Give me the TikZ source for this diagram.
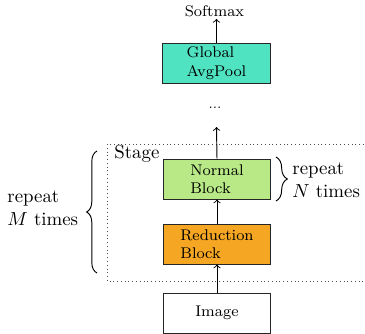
\documentclass[tikz,border=0pt]{standalone}
\usetikzlibrary{decorations.pathreplacing}
\definecolor{gapc}{HTML}{50E3C2}
\definecolor{normc}{HTML}{B8E986}
\definecolor{redc}{HTML}{F5A623}
\newcommand{\boxfont}{\fontsize{8.2}{9.7}\selectfont}
\begin{document}
\begin{tikzpicture}[x=0.53pt,y=-0.53pt,
 blockbox/.style={draw=black!85, line width=0.5pt, minimum width=57.2pt, minimum height=21.2pt, inner sep=0pt, align=left, font=\boxfont},
 arr/.style={->, line width=0.5pt},
 stagebox/.style={dash pattern=on 0.5pt off 1.5pt, line width=0.5pt, black!70},
 bracestyle/.style={decorate, decoration={brace, amplitude=5.5pt}, line width=0.5pt}]
\useasboundingbox (0,0) rectangle (365,334);
\node[font=\boxfont, inner sep=1pt] (softmax) at (214.5,11) {Softmax};
\node[blockbox, fill=gapc] (gap) at (216.5,63) {Global\\AvgPool};
\node[font=\scriptsize, inner sep=0pt, anchor=base] (dots) at (215,108) {...};
\coordinate (dotsin) at (216.5,127);
\draw[stagebox] (107,144) rectangle (372,281);
\node[anchor=base west, inner sep=0pt] (stagelabel) at (114,158) {Stage};
\node[blockbox, fill=normc] (normal) at (217,179) {Normal\\Block};
\node[blockbox, fill=redc] (reduction) at (217,244) {Reduction\\Block};
\node[blockbox, align=center] (image) at (217,313) {Image};
\draw[arr] (gap.north) -- (gap.north |- softmax.south);
\draw[arr] (normal.north) -- (dotsin);
\draw[arr] (reduction.north) -- (normal.south);
\draw[arr] (image.north) -- (reduction.south);
\coordinate (nb1) at (276,157);
\coordinate (nb2) at (276,201);
\draw[bracestyle, decoration={amplitude=6pt}] (nb1) -- (nb2);
\node[anchor=west, align=left, inner sep=0pt] (ntext) at (292,180) {repeat\\$N$ times};
\coordinate (mb1) at (97,273);
\coordinate (mb2) at (97,151);
\draw[bracestyle] (mb1) -- (mb2);
\node[anchor=west, align=left, inner sep=0pt] (mtext) at (7,208) {repeat\\$M$ times};
\end{tikzpicture}
\end{document}
